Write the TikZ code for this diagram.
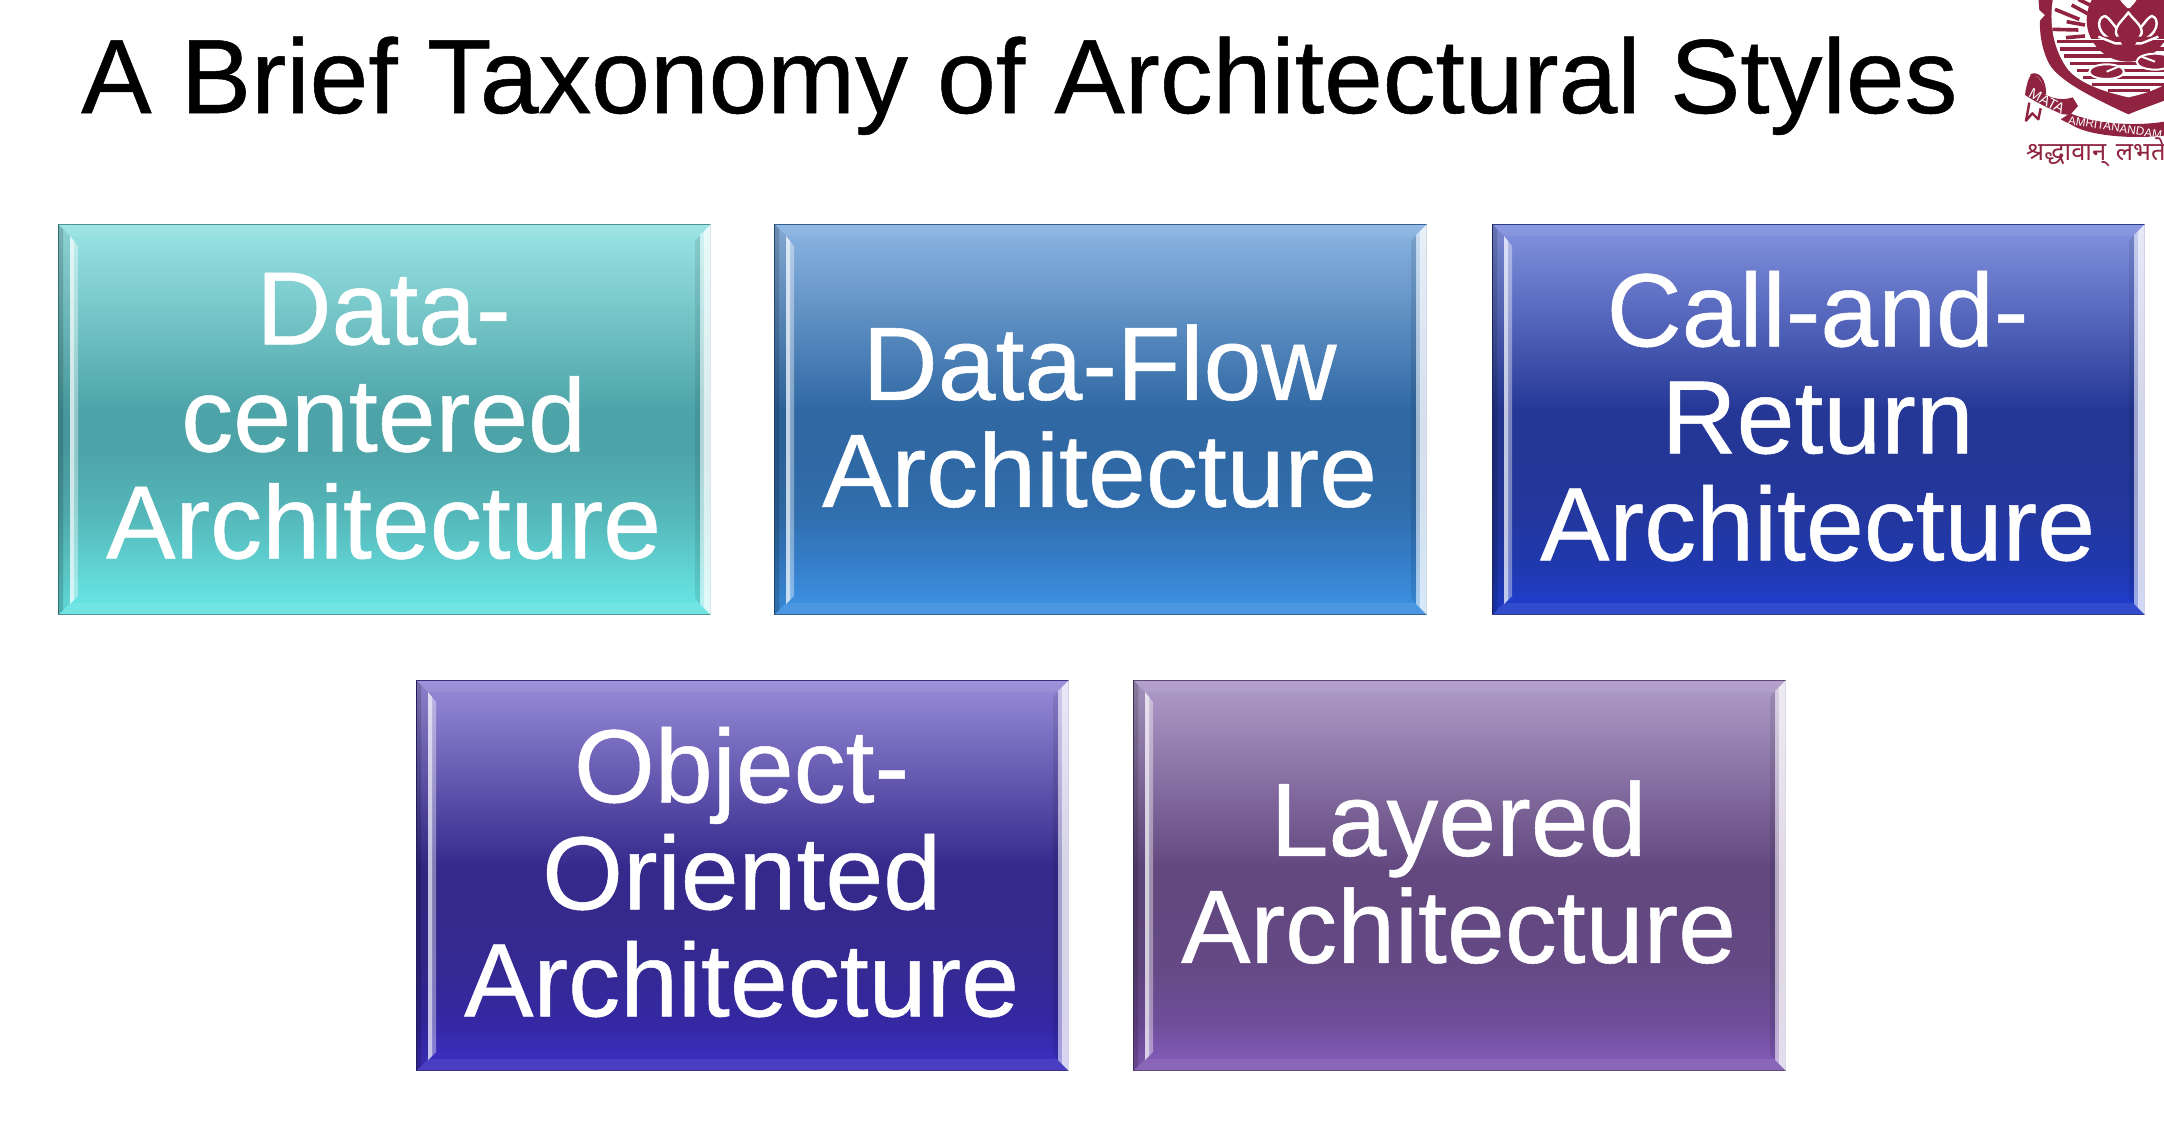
\documentclass[tikz,border=0pt]{standalone}
\usepackage{fontspec}
\setmainfont{Liberation Sans}
\newfontfamily\devafont[Script=Devanagari]{Noto Sans}
\newfontfamily\heavyfont[FakeBold=0.5]{Liberation Sans}
\definecolor{logored}{HTML}{8F2340}
\definecolor{tealE}{HTML}{66E2E2}\definecolor{tealD}{HTML}{60D2D2}\definecolor{tealM}{HTML}{4DA4A8}\definecolor{tealT}{HTML}{9AE4E5}
\definecolor{blueE}{HTML}{3B8EDE}\definecolor{blueD}{HTML}{3680CC}\definecolor{blueM}{HTML}{2F68A3}\definecolor{blueT}{HTML}{8CB5E2}
\definecolor{navyE}{HTML}{1F3DC8}\definecolor{navyD}{HTML}{2038B0}\definecolor{navyM}{HTML}{243796}\definecolor{navyT}{HTML}{8494E0}
\definecolor{indiE}{HTML}{3A2EBC}\definecolor{indiD}{HTML}{3428A4}\definecolor{indiM}{HTML}{35298C}\definecolor{indiT}{HTML}{988CD8}
\definecolor{plumE}{HTML}{7F59B2}\definecolor{plumD}{HTML}{6E4E9A}\definecolor{plumM}{HTML}{62487F}\definecolor{plumT}{HTML}{B09CCA}
\colorlet{tealL}{tealM!60!tealD}\colorlet{blueL}{blueM!75!blueD}\colorlet{navyL}{navyM!70!navyD}\colorlet{indiL}{indiM!70!indiD}\colorlet{plumL}{plumM!75!plumD}
\pgfdeclareverticalshading{tealgrad}{100bp}{color(0bp)=(tealE);color(27bp)=(tealE);color(31bp)=(tealD);color(38bp)=(tealL);color(46bp)=(tealM);color(51bp)=(tealM);color(75bp)=(tealT);color(100bp)=(tealT)}
\pgfdeclareverticalshading{bluegrad}{100bp}{color(0bp)=(blueE);color(27bp)=(blueE);color(31bp)=(blueD);color(38bp)=(blueL);color(46bp)=(blueM);color(51bp)=(blueM);color(75bp)=(blueT);color(100bp)=(blueT)}
\pgfdeclareverticalshading{navygrad}{100bp}{color(0bp)=(navyE);color(27bp)=(navyE);color(31bp)=(navyD);color(38bp)=(navyL);color(46bp)=(navyM);color(51bp)=(navyM);color(75bp)=(navyT);color(100bp)=(navyT)}
\pgfdeclareverticalshading{indigrad}{100bp}{color(0bp)=(indiE);color(27bp)=(indiE);color(31bp)=(indiD);color(38bp)=(indiL);color(46bp)=(indiM);color(51bp)=(indiM);color(75bp)=(indiT);color(100bp)=(indiT)}
\pgfdeclareverticalshading{plumgrad}{100bp}{color(0bp)=(plumE);color(27bp)=(plumE);color(31bp)=(plumD);color(38bp)=(plumL);color(46bp)=(plumM);color(51bp)=(plumM);color(75bp)=(plumT);color(100bp)=(plumT)}
\tikzset{
 boxtext/.style={text=white,font=\heavyfont\fontsize{104}{107}\selectfont,align=center,inner sep=0pt,yshift=3.5pt,xshift=-1pt},
 titletext/.style={text=black,font=\heavyfont\fontsize{105.5}{110}\selectfont,anchor=base west,inner sep=0pt},
 panel/.style={rectangle,draw=#1M!85!black,line width=1.2pt,minimum width=652pt,minimum height=390pt,inner sep=0pt,anchor=north west,shading=#1grad},
 petal/.style={draw=white,line width=2.4pt,fill=logored,line join=round}
}
% \bevel{name}: facets drawn from the named panel's corners
\newcommand{\bevel}[1]{%
 \path (#1.north west) coordinate (nw) (#1.north east) coordinate (ne) (#1.south west) coordinate (sw) (#1.south east) coordinate (se);
 \fill[white,opacity=.06] (nw) -- ++(12,12) -- ([xshift=-12pt,yshift=-12pt]ne) -- (ne) -- cycle;
 \fill[white,opacity=.08] (sw) -- ++(12,-12) -- ([xshift=-12pt,yshift=12pt]se) -- (se) -- cycle;
 \fill[black,opacity=.22] (nw) -- ++(5,5) -- ([xshift=5pt,yshift=5pt]sw) -- (sw) -- cycle;
 \fill[black,opacity=.07] (nw) ++(5,5) -- ++(7,7) -- ([xshift=12pt,yshift=12pt]sw) -- ([xshift=5pt,yshift=5pt]sw) -- cycle;
 \fill[white,opacity=.72] (nw) ++(12,12) -- ++(4,5) -- ([xshift=16pt,yshift=15pt]sw) -- ([xshift=12pt,yshift=11pt]sw) -- cycle;
 \fill[white,opacity=.38] (nw) ++(16,17) -- ++(4,5) -- ([xshift=20pt,yshift=19pt]sw) -- ([xshift=16pt,yshift=15pt]sw) -- cycle;
 \fill[white,opacity=.8] (ne) -- ++(-7,7) -- ([xshift=-7pt,yshift=7pt]se) -- (se) -- cycle;
 \fill[white,opacity=.55] (ne) ++(-7,7) -- ++(-4,4) -- ([xshift=-11pt,yshift=11pt]se) -- ([xshift=-7pt,yshift=7pt]se) -- cycle;
 \fill[black,opacity=.09] (ne) ++(-11,11) -- ++(-5,6) -- ([xshift=-16pt,yshift=17pt]se) -- ([xshift=-11pt,yshift=11pt]se) -- cycle;
}
\begin{document}
\begin{tikzpicture}[x=1pt,y=-1pt]
\useasboundingbox (0,0) rectangle (2164,1120);
\fill[white] (0,0) rectangle (2164,1120);
\node[titletext] (title) at (81,113) {A Brief Taxonomy of Architectural Styles};

\node[panel=teal] (p1) at (58,224) {};
\node[panel=blue] (p2) at (774,224) {};
\node[panel=navy] (p3) at (1492,224) {};
\node[panel=indi] (p4) at (416,680) {};
\node[panel=plum] (p5) at (1133,680) {};
\bevel{p1}\bevel{p2}\bevel{p3}\bevel{p4}\bevel{p5}
\node[boxtext] (t1) at (p1) {Data-\\centered\\Architecture};
\node[boxtext] (t2) at (p2) {Data-Flow\\Architecture};
\node[boxtext] (t3) at (p3) {Call-and-\\Return\\Architecture};
\node[boxtext] (t4) at (p4) {Object-\\Oriented\\Architecture};
\node[boxtext] (t5) at (p5) {Layered\\Architecture};

% logo, in the coordinates of a 3x crop whose corner is (1990,0)
\begin{scope}
\clip (2000,0) rectangle (2164,175);
\begin{scope}[shift={(1990,0)},x=.3333pt,y=-.3333pt]
\fill[logored] (145,-10) -- (148,30) -- (165,45) -- (150,62) .. controls (148,110) and (160,160) .. (178,192)
  .. controls (205,240) and (300,290) .. (415,343) .. controls (450,328) and (490,315) .. (540,295) -- (540,-10) -- cycle;
\fill[white] (190,-10) .. controls (175,70) and (190,150) .. (235,210) .. controls (270,250) and (340,275) .. (415,292)
  .. controls (450,285) and (500,270) .. (540,245) -- (540,-10) -- cycle;
% sun disc
\fill[logored] (415,60) circle (125);
% water
\foreach \yy/\xa/\xb in {120/200/540,142/210/540,163/222/540,185/240/540,206/262/540,228/278/540,248/305/540,267/355/480}
  \fill[logored] (\xa,\yy) rectangle (\xb,\yy+10);
\fill[white] (285,118) rectangle (540,120);
% lily pads
\draw[white,line width=2pt,fill=logored] (350,215) ellipse (52 and 22);
\draw[white,line width=2pt,fill=logored] (495,185) ellipse (55 and 24);
\draw[white,line width=2pt] (350,215) -- (385,200) (495,185) -- (455,170);
% rays
\foreach \xa/\ya/\xb/\yb in {195/28/268/58,245/15/295/42,265/-2/310/20,187/88/265/90,230/65/285/75,228/113/285/108}
  \draw[logored,line width=3.6pt] (\xa,\ya) -- (\xb,\yb);
% lotus
\draw[petal] (345,48) .. controls (318,52) and (315,110) .. (385,125) -- (440,125) .. controls (510,110) and (510,52) .. (485,48) .. controls (470,55) and (470,65) .. (415,125) .. controls (360,65) and (360,55) .. (345,48) -- cycle;
\draw[petal] (415,37) .. controls (400,60) and (375,75) .. (378,100) .. controls (382,120) and (400,122) .. (415,122) .. controls (430,122) and (450,120) .. (455,100) .. controls (458,75) and (430,60) .. (415,37) -- cycle;
\draw[petal] (325,110) -- (375,130) -- (455,130) -- (505,110);
\fill[logored] (390,122) -- (442,122) .. controls (436,135) and (424,148) .. (416,155) .. controls (408,148) and (396,135) .. (390,122) -- cycle;
\fill[white] (388,-10) -- (442,-10) .. controls (440,8) and (425,15) .. (420,24) -- (412,24) .. controls (405,15) and (390,8) .. (388,-10) -- cycle;
% ribbon
\fill[logored] (105,285) .. controls (108,260) and (115,235) .. (122,226) .. controls (140,222) and (158,240) .. (165,283)
  .. controls (195,300) and (225,300) .. (248,292) -- (264,318) -- (240,345) -- (215,342) .. controls (175,325) and (135,305) .. (105,285) -- cycle;
\fill[logored] (240,340) .. controls (300,365) and (420,385) .. (540,362) -- (540,405) .. controls (420,420) and (300,405) .. (255,380) -- (212,358) -- cycle;
\draw[logored,line width=2.4pt,line join=round] (118,308) -- (108,362) -- (127,340) -- (145,358) -- (152,325);
\draw[logored,line width=2.4pt] (122,226) .. controls (145,215) and (165,240) .. (165,283);
\end{scope}
\node[text=white,font=\fontsize{14.5}{14.5}\selectfont,rotate=-28,inner sep=0pt] (mata) at (2047,101) {MATA};
\node[text=white,font=\fontsize{11.8}{12}\selectfont,rotate=-9,inner sep=0pt,anchor=west] (amrita) at (2068,120) {AMRITANANDAM};
\node[text=logored,font=\devafont\fontsize{25.5}{26}\selectfont,anchor=base west,inner sep=0pt] (motto) at (2026,160) {श्रद्धावान्~\kern3pt लभते};
\end{scope}
\end{tikzpicture}
\end{document}
